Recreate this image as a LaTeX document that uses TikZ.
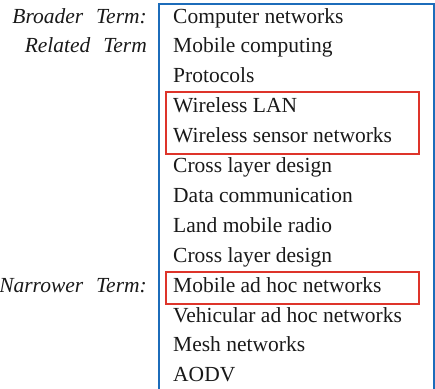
\documentclass[tikz,border=0pt]{standalone}
\usepackage{fontspec}
\setmainfont{Liberation Serif}
\definecolor{frameblue}{RGB}{28,108,186}
\definecolor{markred}{RGB}{222,52,42}
\definecolor{inktext}{RGB}{25,25,25}
\tikzset{
  term/.style={anchor=base west, inner sep=0pt, text=inktext,
    font=\fontsize{21.5}{24}\selectfont},
  kind/.style={anchor=base east, inner sep=0pt, text=inktext,
    font=\fontsize{21.5}{24}\selectfont\itshape},
  listframe/.style={draw=frameblue, line width=2pt},
  groupbox/.style={draw=markred, line width=1.8pt}
}
\begin{document}
\begin{tikzpicture}[x=1pt,y=1pt]
\useasboundingbox (0,0) rectangle (435,-388);
% list of terms, one row every 29.9pt
\foreach \t [count=\i] in {Computer networks, Mobile computing, Protocols,
  Wireless LAN, Wireless sensor networks, Cross layer design,
  Data communication, Land mobile radio, Cross layer design,
  Mobile ad hoc networks, Vehicular ad hoc networks, Mesh networks, AODV}
  \node[term] (i\i) at (173,{-23-29.9*(\i-1)}) {\t};
% kinds of relation on the left
\node[kind] (bt) at (147,-23) {Broader\hspace{0.35em} Term:};
\node[kind] (rt) at (147,-52.9) {Related\hspace{0.35em} Term};
\node[kind] (nt) at (147,-292.1) {Narrower\hspace{0.35em} Term:};
% open frame around the list
\coordinate (fbl) at (159,-400);
\coordinate (ftl) at (159,-3.5);
\coordinate (ftr) at (434,-3.5);
\coordinate (fbr) at (434,-400);
\draw[listframe] (fbl) -- (ftl) -- (ftr) -- (fbr);
% highlighted groups
\draw[groupbox] (166,-92) rectangle (419,-154);
\draw[groupbox] (166,-272) rectangle (419,-304);
\end{tikzpicture}
\end{document}
